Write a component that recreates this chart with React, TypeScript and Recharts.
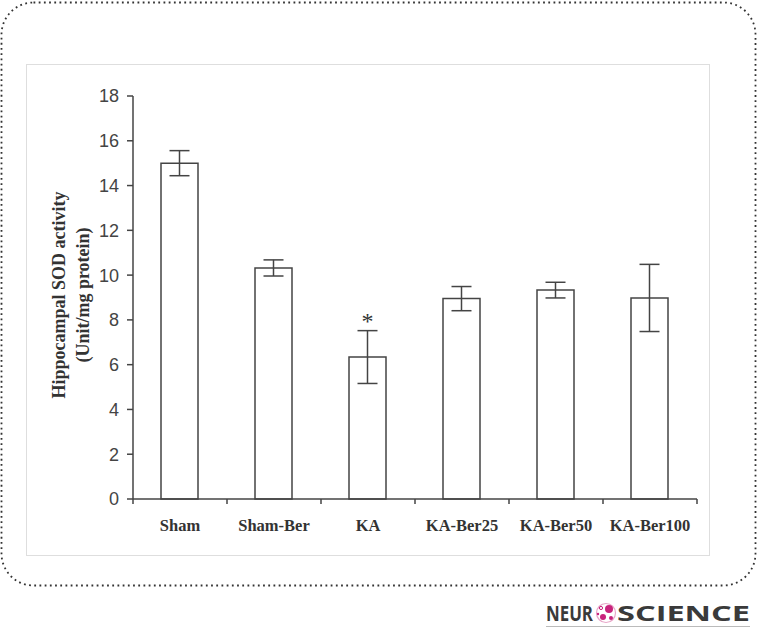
import { Bar, BarChart, ErrorBar, LabelList, XAxis, YAxis } from 'recharts';

const groups = ['Sham', 'Sham-Ber', 'KA', 'KA-Ber25', 'KA-Ber50', 'KA-Ber100'];
const sodMean = [15.0, 10.32, 6.34, 8.95, 9.33, 8.98];
const sodSem = [0.56, 0.36, 1.18, 0.54, 0.35, 1.5];
const significance = ['', '', '*', '', '', ''];
const yTicks = [0, 2, 4, 6, 8, 10, 12, 14, 16, 18];

// bars sit at half steps so the whole steps can carry the group boundary ticks
const data = groups.map((name, i) => ({
  name,
  pos: i + 0.5,
  value: sodMean[i],
  err: sodSem[i],
  sig: significance[i],
}));
const xTicks = [0, 0.5, 1, 1.5, 2, 2.5, 3, 3.5, 4, 4.5, 5, 5.5, 6];

const INK = '#444';

function GroupTick(props: any) {
  const { x, y, payload } = props;
  const v = payload.value as number;
  if (Number.isInteger(v)) {
    return <line x1={x} y1={y} x2={x} y2={y + 5} stroke={INK} strokeWidth={1.5} />;
  }
  return (
    <text
      x={x}
      y={y + 32}
      textAnchor="middle"
      fontFamily="'Liberation Serif', serif"
      fontWeight="bold"
      fontSize={16.5}
      fill="#333"
    >
      {groups[Math.floor(v)]}
    </text>
  );
}

function Star(props: any) {
  const { x, y, width, value } = props;
  if (!value) return null;
  return (
    <text x={x + width / 2} y={y - 28} textAnchor="middle" fontFamily="'Liberation Serif', serif" fontSize={24} fill="#333">
      {value}
    </text>
  );
}

function Frame() {
  return (
    <svg width={757} height={628} style={{ position: 'absolute', left: 0, top: 0 }}>
      <rect x={1.5} y={2.5} width={754} height={583} rx={32} fill="#fff" stroke="#333" strokeWidth={1.8} strokeDasharray="1.8 3.4" />
      <rect x={26.5} y={64.5} width={683} height={491} fill="#fff" stroke="#dedede" />
      <g fontFamily="'Liberation Serif', serif" fontWeight="bold" fontSize={18} fill="#333" textAnchor="middle">
        <text transform="translate(59, 295) rotate(-90)" dominantBaseline="central">Hippocampal SOD activity</text>
        <text transform="translate(83, 295) rotate(-90)" dominantBaseline="central">(Unit/mg protein)</text>
      </g>
      <g fontFamily="'Open Sans', sans-serif" fontWeight={700} fontSize={21} fill="#3a3a3a">
        <text x={546} y={621} textLength={47} lengthAdjust="spacingAndGlyphs">NEUR</text>
        <text x={617} y={621} textLength={133} lengthAdjust="spacingAndGlyphs">SCIENCE</text>
      </g>
      <g>
        <circle cx={606} cy={613} r={9.5} fill="none" stroke="#e8a6c8" strokeWidth={1.2} />
        <circle cx={609} cy={609} r={4} fill="#c8237c" />
        <circle cx={603} cy={617} r={3} fill="#c8237c" />
        <circle cx={611} cy={618} r={2} fill="#c8237c" />
        <circle cx={601} cy={608} r={1.6} fill="none" stroke="#c8237c" strokeWidth={1} />
        <circle cx={598} cy={614} r={1.2} fill="#c8237c" />
      </g>
      <line x1={546} y1={626.5} x2={750} y2={626.5} stroke="#bbb" />
    </svg>
  );
}

export default function App() {
  return (
    <div style={{ position: 'absolute', left: 0, top: 0, width: 757, height: 628 }}>
      <Frame />
      <div style={{ position: 'absolute', left: 0, top: 0 }}>
        <BarChart width={757} height={628} data={data} margin={{ top: 96, right: 60, left: 73, bottom: 99 }}>
          <XAxis
            dataKey="pos"
            type="number"
            domain={[0, 6]}
            ticks={xTicks}
            interval={0}
            tickLine={false}
            tickSize={0}
            tickMargin={0}
            height={30}
            axisLine={{ stroke: INK, strokeWidth: 1.5 }}
            tick={<GroupTick />}
          />
          <YAxis
            domain={[0, 18]}
            ticks={yTicks}
            interval={0}
            width={60}
            tickSize={6}
            tickMargin={8}
            axisLine={{ stroke: INK, strokeWidth: 1.5 }}
            tickLine={{ stroke: INK, strokeWidth: 1.5 }}
            tick={{ fontSize: 18, fill: '#444', fontFamily: "'Liberation Sans', Arial, sans-serif" }}
          />
          <Bar dataKey="value" barSize={37} fill="#fff" stroke={INK} strokeWidth={1.5} isAnimationActive={false}>
            <ErrorBar dataKey="err" width={10} stroke={INK} strokeWidth={1.5} />
            <LabelList dataKey="sig" content={<Star />} />
          </Bar>
        </BarChart>
      </div>
    </div>
  );
}
